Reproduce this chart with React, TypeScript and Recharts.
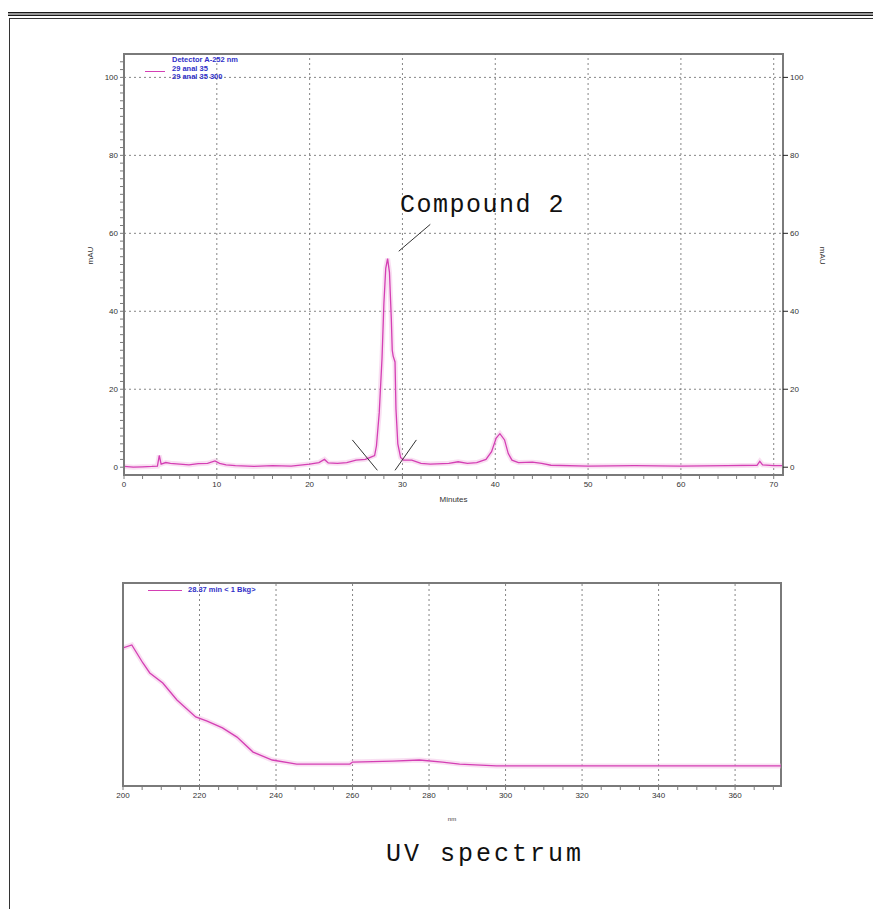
import React from "react";
import {
  LineChart,
  Line,
  XAxis,
  YAxis,
  ReferenceLine,
  ReferenceArea,
} from "recharts";

// chromatogram (minutes vs mAU)
const chromTime = [
  0, 1, 2, 3, 3.6, 3.8, 4.0, 4.5, 5, 6, 7, 8, 9, 9.8, 10.3, 11, 12, 14, 16, 18,
  20, 21, 21.6, 22, 23, 24, 25, 26, 26.6, 27.0, 27.2, 27.5, 27.8, 28.0, 28.2,
  28.4, 28.6, 28.8, 28.9, 29.0, 29.2, 29.3, 29.5, 29.8, 30.1, 31, 32, 33, 35,
  36, 37, 38, 39, 39.6, 40.1, 40.5, 41.0, 41.4, 41.8, 42.5, 44, 45, 46, 50, 55,
  60, 65, 68.2, 68.5, 68.8, 70, 71,
];
const chromSignal = [
  0.2, 0.0, 0.1, 0.2, 0.3, 3.0, 0.8, 1.2, 1.0, 0.8, 0.6, 0.9, 1.0, 1.6, 1.0,
  0.6, 0.4, 0.2, 0.4, 0.3, 0.8, 1.2, 2.0, 1.1, 1.0, 1.2, 1.8, 2.0, 2.6, 3.0,
  5.5, 14, 28, 42, 51, 53.5, 50, 38, 30, 28.5, 27, 15, 6, 2.5, 1.8, 1.8, 1.0,
  0.8, 1.0, 1.4, 1.0, 1.2, 2.0, 4.0, 7.5, 8.6, 7.0, 3.5, 1.8, 1.2, 1.3, 1.0,
  0.5, 0.3, 0.4, 0.3, 0.4, 0.5, 1.5, 0.6, 0.4, 0.4,
];

// UV spectrum of the main peak (nm vs relative absorbance)
const uvWavelength = [
  200, 202.3, 205.2, 207, 210.4, 214.1, 219, 222, 226, 229.8, 234, 239, 245.4,
  259.3, 260, 270.5, 277.5, 283.5, 288, 297.6, 372,
];
const uvAbsorbance = [
  68, 69.5, 60.6, 55.7, 50.7, 42.4, 34, 32, 28.6, 24.1, 16.7, 12.8, 10.8, 10.8,
  11.8, 12.3, 12.8, 11.8, 10.8, 9.9, 9.9,
];

const chromMajorY = [0, 20, 40, 60, 80, 100];
const chromMajorX = [0, 10, 20, 30, 40, 50, 60, 70];
const uvMajorX = [200, 220, 240, 260, 280, 300, 320, 340, 360];

const chromLegend = ["Detector A-252 nm", "29 anal 35", "29 anal 35 300"];
const uvLegend = "28.37 min < 1 Bkg>";

// integration markers at the peak base and the annotation pointer
const peakStart = [{ x: 24.6, y: 7 }, { x: 27.3, y: -0.8 }];
const peakEnd = [{ x: 29.2, y: -0.8 }, { x: 31.5, y: 7 }];
const pointer = [{ x: 29.6, y: 55.4 }, { x: 33.0, y: 62.3 }];

const range = (from: number, to: number, step: number) => {
  const out: number[] = [];
  for (let i = 0; from + i * step <= to + 1e-9; i++) out.push(+(from + i * step).toFixed(3));
  return out;
};

const chromData = chromTime.map((t, i) => ({ t, v: chromSignal[i] }));
const uvData = uvWavelength.map((nm, i) => ({ nm, a: uvAbsorbance[i] }));

const LINE = "#d43fb4";
const HALO = "#f2b8e3";
const AXIS = "#7a7a7a";
const GRID = "#666";
const tickFont = { fontFamily: "'Liberation Sans', Arial, sans-serif", fontSize: 8, fill: "#333" };

const makeTick = (majors: number[], side: "left" | "right" | "bottom") => (props: any) => {
  const { x, y, payload } = props;
  if (!majors.includes(payload.value)) return <g />;
  const anchor = side === "left" ? "end" : side === "right" ? "start" : "middle";
  const dy = side === "bottom" ? "0.71em" : "0.32em";
  return (
    <text x={x} y={y} dy={dy} textAnchor={anchor} {...tickFont}>
      {payload.value}
    </text>
  );
};

const legendText: React.CSSProperties = {
  position: "absolute",
  fontFamily: "'Liberation Sans', Arial, sans-serif",
  fontSize: 7.5,
  lineHeight: "8.5px",
  color: "#3030c8",
  fontWeight: 600,
  whiteSpace: "nowrap",
};

const caption: React.CSSProperties = {
  position: "absolute",
  fontFamily: "'Liberation Mono', monospace",
  fontSize: 25,
  color: "#111",
  whiteSpace: "nowrap",
  lineHeight: "26px",
};

// ridge-style page border: dark / grey / dark, a thin gap, then one more line
function PageFrame() {
  const box: React.CSSProperties = { boxSizing: "border-box", width: "100%", height: "100%" };
  return (
    <div style={{ position: "absolute", left: 3, top: 12, width: 920, height: 904, zIndex: 2, pointerEvents: "none" }}>
      <div style={{ ...box, border: "1px solid #1a1a1a" }}>
        <div style={{ ...box, border: "2px solid #9a9a9a" }}>
          <div style={{ ...box, border: "1px solid #1a1a1a", padding: 2 }}>
            <div style={{ ...box, border: "1px solid #333" }} />
          </div>
        </div>
      </div>
    </div>
  );
}

function Chromatogram() {
  return (
    <div style={{ position: "absolute", left: 0, top: 0 }}>
      <LineChart width={881} height={520} data={chromData} margin={{ top: 54, right: 0, bottom: 15, left: 0 }}>
        <XAxis
          dataKey="t"
          type="number"
          domain={[0, 71]}
          allowDataOverflow
          ticks={range(0, 70, 2)}
          interval={0}
          tick={makeTick(chromMajorX, "bottom")}
          tickSize={4}
          tickLine={{ stroke: AXIS }}
          axisLine={{ stroke: AXIS, strokeWidth: 2 }}
          height={30}
          label={{ value: "Minutes", position: "insideBottom", offset: 3, ...tickFont }}
        />
        <YAxis
          type="number"
          domain={[-2, 106]}
          allowDataOverflow
          ticks={range(0, 104, 2)}
          interval={0}
          tick={makeTick(chromMajorY, "left")}
          tickSize={4}
          tickLine={{ stroke: AXIS }}
          axisLine={{ stroke: AXIS, strokeWidth: 2 }}
          width={124}
          label={{ value: "mAU", angle: -90, position: "insideLeft", offset: 90, ...tickFont }}
        />
        <YAxis
          yAxisId="right"
          orientation="right"
          type="number"
          domain={[-2, 106]}
          allowDataOverflow
          ticks={chromMajorY}
          interval={0}
          tick={makeTick(chromMajorY, "right")}
          tickSize={5}
          tickLine={{ stroke: "#222" }}
          axisLine={{ stroke: AXIS, strokeWidth: 2 }}
          width={98}
          label={{ value: "mAU", angle: 90, position: "insideRight", offset: 58, ...tickFont }}
        />
        {chromMajorY.slice(1).map((v) => (
          <ReferenceLine key={`h${v}`} y={v} stroke={GRID} strokeDasharray="2 3" strokeWidth={0.8} />
        ))}
        {chromMajorX.slice(1).map((v) => (
          <ReferenceLine key={`v${v}`} x={v} stroke={GRID} strokeDasharray="2 3" strokeWidth={0.8} />
        ))}
        <ReferenceArea x1={0} x2={71} y1={-2} y2={106} fill="none" stroke={AXIS} strokeWidth={2} ifOverflow="visible" />
        <Line dataKey="v" type="linear" stroke={HALO} strokeWidth={5} strokeOpacity={0.45} dot={false} isAnimationActive={false} />
        <Line dataKey="v" type="linear" stroke={LINE} strokeWidth={1.3} dot={false} isAnimationActive={false} />
        <ReferenceLine segment={peakStart} stroke="#333" strokeWidth={1} ifOverflow="visible" />
        <ReferenceLine segment={peakEnd} stroke="#333" strokeWidth={1} ifOverflow="visible" />
        <ReferenceLine segment={pointer} stroke="#333" strokeWidth={1} ifOverflow="visible" />
      </LineChart>
      <div style={{ position: "absolute", left: 145, top: 71, width: 20, height: 1, background: LINE }} />
      <div style={{ ...legendText, left: 172, top: 56 }}>
        {chromLegend.map((s) => (
          <div key={s}>{s}</div>
        ))}
      </div>
      <div style={{ ...caption, left: 400, top: 193, letterSpacing: 1.5 }}>Compound 2</div>
    </div>
  );
}

function UvSpectrum() {
  return (
    <div style={{ position: "absolute", left: 0, top: 540 }}>
      <LineChart width={881} height={300} data={uvData} margin={{ top: 43, right: 100, bottom: 24, left: 0 }}>
        <XAxis
          dataKey="nm"
          type="number"
          domain={[200, 372]}
          allowDataOverflow
          ticks={range(200, 370, 5)}
          interval={0}
          tick={makeTick(uvMajorX, "bottom")}
          tickSize={4}
          tickLine={{ stroke: AXIS }}
          axisLine={{ stroke: AXIS, strokeWidth: 2 }}
          height={30}
          label={{ value: "nm", position: "insideBottom", offset: -5, ...tickFont, fontSize: 6 }}
        />
        <YAxis
          type="number"
          domain={[0, 100]}
          allowDataOverflow
          tick={false}
          tickLine={false}
          axisLine={{ stroke: AXIS, strokeWidth: 2 }}
          width={123}
        />
        {uvMajorX.slice(1).map((v) => (
          <ReferenceLine key={`v${v}`} x={v} stroke={GRID} strokeDasharray="2 3" strokeWidth={0.8} />
        ))}
        <ReferenceArea x1={200} x2={372} y1={0} y2={100} fill="none" stroke={AXIS} strokeWidth={2} ifOverflow="visible" />
        <Line dataKey="a" type="linear" stroke={HALO} strokeWidth={5} strokeOpacity={0.45} dot={false} isAnimationActive={false} />
        <Line dataKey="a" type="linear" stroke={LINE} strokeWidth={1.3} dot={false} isAnimationActive={false} />
      </LineChart>
      <div style={{ position: "absolute", left: 148, top: 50, width: 34, height: 1, background: LINE }} />
      <div style={{ ...legendText, left: 188, top: 46 }}>{uvLegend}</div>
    </div>
  );
}

export default function App() {
  return (
    <div style={{ position: "relative", width: 881, height: 917, margin: -8, overflow: "hidden", background: "#fff" }}>
      <Chromatogram />
      <UvSpectrum />
      <div style={{ ...caption, left: 386, top: 842, letterSpacing: 3 }}>UV spectrum</div>
      <PageFrame />
    </div>
  );
}
